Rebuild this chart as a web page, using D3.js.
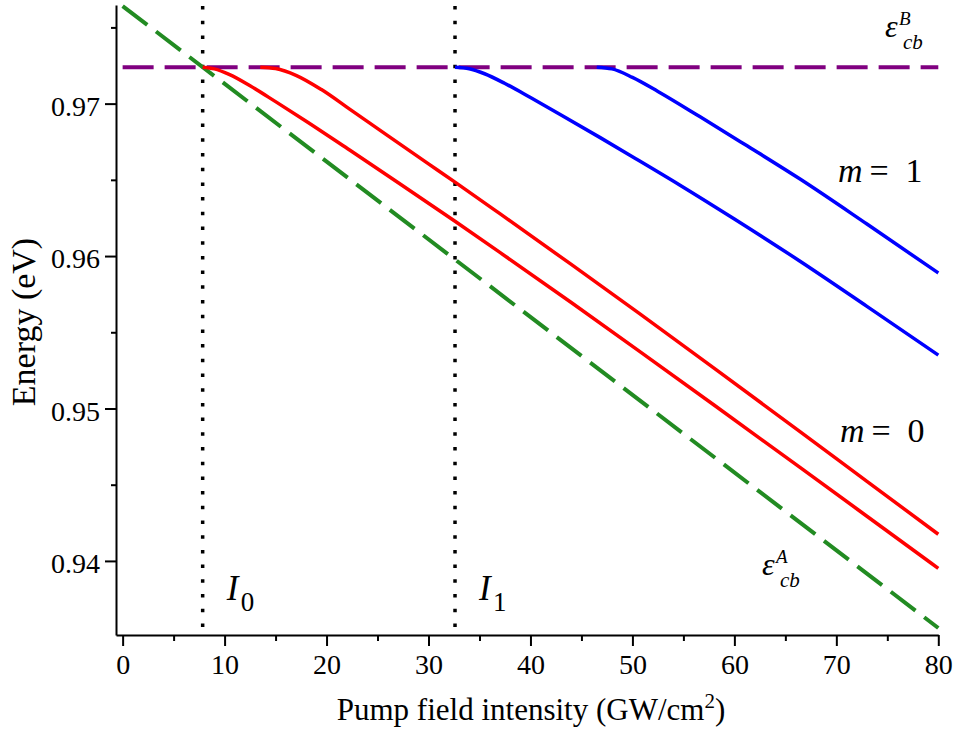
<!DOCTYPE html>
<html><head><meta charset="utf-8">
<script src="https://cdn.jsdelivr.net/npm/d3@7"></script>
<style>
body{margin:0;background:#fff}
svg{display:block}
text{font-family:"Liberation Serif","Times New Roman",serif;fill:#000}
</style>
</head><body>
<svg id="c" width="959" height="734"></svg>
<script>
// ---- data ----
const xMajorTicks = [0, 10, 20, 30, 40, 50, 60, 70, 80];
const xMinorTicks = [5, 15, 25, 35, 45, 55, 65, 75];
const yMajorTicks = [0.94, 0.95, 0.96, 0.97];
const yMinorTicks = [0.945, 0.955, 0.965, 0.975];

const epsB = 0.97239;                 // purple dashed level
const epsAX = [0, 80];                // green dashed line
const epsAY = [0.97640, 0.93560];
const thresholds = [7.85, 32.6];      // I0, I1
const thresholdSubs = ["0", "1"];

const redLowerX = [7.85, 9, 10.5, 12.5, 15, 18, 22.3, 27, 32.6, 37, 44, 50.7, 58, 66.4, 73, 80];
const redLowerY = [0.97239, 0.97228, 0.97190, 0.97117, 0.97013, 0.96885, 0.96694, 0.96483, 0.96228, 0.96024, 0.95695, 0.95375, 0.95023, 0.94615, 0.94293, 0.93951];

const redUpperX = [13.5, 15, 17, 19.5, 22.3, 26, 30, 32.6, 37, 44, 50.7, 58, 66.4, 73, 80];
const redUpperY = [0.97239, 0.97230, 0.97186, 0.97092, 0.96962, 0.96790, 0.96605, 0.96485, 0.96278, 0.95945, 0.95622, 0.95265, 0.94850, 0.94522, 0.94175];

const blueLowerX = [32.6, 34, 35.5, 37.5, 40, 43, 46.84, 50, 54.67, 60, 66.44, 73, 80];
const blueLowerY = [0.97239, 0.97229, 0.97196, 0.97132, 0.97040, 0.96926, 0.96777, 0.96652, 0.96465, 0.96243, 0.95966, 0.95670, 0.95350];

const blueUpperX = [46.5, 48, 50, 52.5, 56.6, 61, 66.44, 73, 80];
const blueUpperY = [0.97239, 0.97228, 0.97172, 0.97080, 0.96915, 0.96733, 0.96505, 0.96210, 0.95889];

// ---- chart ----
const svg = d3.select("#c");
const x = d3.scaleLinear().domain([-0.65, 80]).range([116, 938.3]);
const y = d3.scaleLinear().domain([0.93514, 0.97647]).range([635, 5]);

const font = '"Liberation Serif","Times New Roman",serif';

function styleAxis(g){
  g.attr("font-family", null).attr("font-size", null);
  g.selectAll("path.domain").attr("stroke","#000").attr("stroke-width",2);
  g.selectAll(".tick line").attr("stroke","#000").attr("stroke-width",2);
  g.selectAll(".tick text").style("font-family",font).style("font-size","28px").attr("fill","#000");
}
const gx = svg.append("g").attr("transform",`translate(0,${y.range()[0]})`)
  .call(d3.axisBottom(x).tickValues(xMajorTicks).tickSize(11).tickSizeOuter(0).tickPadding(8).tickFormat(d3.format("d")));
styleAxis(gx);
gx.selectAll(".tick text").attr("dy","0.71em");
const gxm = svg.append("g").attr("transform",`translate(0,${y.range()[0]})`)
  .call(d3.axisBottom(x).tickValues(xMinorTicks).tickSize(6).tickSizeOuter(0).tickFormat(""));
styleAxis(gxm); gxm.select("path.domain").remove();

const gy = svg.append("g").attr("transform",`translate(${x.range()[0]},0)`)
  .call(d3.axisLeft(y).tickValues(yMajorTicks).tickSize(11).tickSizeOuter(0).tickPadding(5).tickFormat(d3.format(".2f")));
styleAxis(gy);
gy.selectAll(".tick text").attr("dy","0.42em");
const gym = svg.append("g").attr("transform",`translate(${x.range()[0]},0)`)
  .call(d3.axisLeft(y).tickValues(yMinorTicks).tickSize(5).tickSizeOuter(0).tickFormat(""));
styleAxis(gym); gym.select("path.domain").remove();

// axis titles
const xt = svg.append("text").attr("x",531).attr("y",720).attr("text-anchor","middle").style("font-size","31px");
xt.append("tspan").text("Pump field intensity (GW/cm");
xt.append("tspan").style("font-size","21px").attr("dy",-12).text("2");
xt.append("tspan").attr("dy",12).text(")");

svg.append("text").attr("transform","translate(35,322) rotate(-90)")
  .attr("text-anchor","middle").style("font-size","34px").text("Energy (eV)");

// vertical dotted thresholds
svg.selectAll("line.thr").data(thresholds).join("line").attr("class","thr")
  .attr("x1",d=>x(d)).attr("x2",d=>x(d))
  .attr("y1",y.range()[1]+1).attr("y2",y.range()[0]-6)
  .attr("stroke","#000").attr("stroke-width",3.5).attr("stroke-dasharray","3.5,11.2");

// purple dashed epsB
svg.append("line").attr("x1",x(0)).attr("x2",x(80)).attr("y1",y(epsB)).attr("y2",y(epsB))
  .attr("stroke","#800080").attr("stroke-width",4).attr("stroke-dasharray","31,11");

// green dashed epsA
const line = d3.line().x(d=>x(d[0])).y(d=>y(d[1]));
svg.append("path").attr("d", line(d3.zip(epsAX, epsAY))).attr("fill","none")
  .attr("stroke","#228b22").attr("stroke-width",4).attr("stroke-dasharray","31,11");

// curves
const curve = d3.line().x(d=>x(d[0])).y(d=>y(d[1])).curve(d3.curveMonotoneX);
const series = [
  {xs: redLowerX, ys: redLowerY, c: "#ff0000"},
  {xs: redUpperX, ys: redUpperY, c: "#ff0000"},
  {xs: blueLowerX, ys: blueLowerY, c: "#0000ff"},
  {xs: blueUpperX, ys: blueUpperY, c: "#0000ff"}
];
series.forEach(s=>{
  svg.append("path").attr("d", curve(d3.zip(s.xs, s.ys))).attr("fill","none")
    .attr("stroke", s.c).attr("stroke-width",3.5).attr("stroke-linecap","butt");
});

// labels
function epsLabel(x0, yb, sup){
  svg.append("text").attr("x",x0).attr("y",yb).style("font-size","32px").style("font-style","italic").text("ε");
  svg.append("text").attr("x",x0+14).attr("y",yb-12).style("font-size","19px").style("font-style","italic").text(sup);
  svg.append("text").attr("x",x0+18).attr("y",yb+12).style("font-size","21px").style("font-style","italic").text("cb");
}
epsLabel(885, 37, "B");
epsLabel(762, 575, "A");

function mLabel(x0, yb, v){
  svg.append("text").attr("x",x0).attr("y",yb).style("font-size","34px").style("font-style","italic").text("m");
  svg.append("text").attr("x",x0+41).attr("y",yb).style("font-size","34px").attr("text-anchor","middle").text("=");
  svg.append("text").attr("x",x0+76).attr("y",yb).style("font-size","34px").attr("text-anchor","middle").text(v);
}
mLabel(838, 182, "1");
mLabel(840, 442, "0");

thresholds.forEach((t,i)=>{
  svg.append("text").attr("x",x(t)+24).attr("y",600).style("font-size","35px").style("font-style","italic").text("I");
  svg.append("text").attr("x",x(t)+38).attr("y",611).style("font-size","27px").text(thresholdSubs[i]);
});
</script>
</body></html>
